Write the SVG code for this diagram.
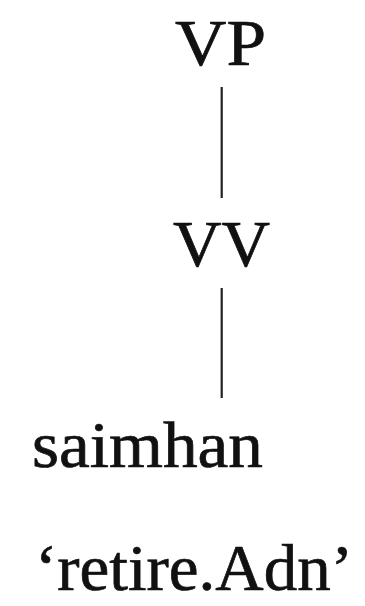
<svg xmlns="http://www.w3.org/2000/svg" width="365" height="606" viewBox="0 0 365 606">
<style>
text{font-family:"Liberation Serif","DejaVu Serif",serif;font-size:65px;fill:#111;stroke:#111;stroke-width:0.7}
.e{stroke:#222;stroke-width:2.2;fill:none}
</style>
<rect width="365" height="606" fill="#fff"/>
<g id="edges">
<line class="e" x1="221.7" y1="87" x2="221.7" y2="198"/>
<line class="e" x1="221.7" y1="288" x2="221.7" y2="398"/>
</g>
<g id="VP"><text x="175" y="65" textLength="91" lengthAdjust="spacingAndGlyphs">VP</text></g>
<g id="VV"><text x="173" y="266" textLength="97" lengthAdjust="spacingAndGlyphs">VV</text></g>
<g id="saimhan"><text x="32" y="467" textLength="231" lengthAdjust="spacingAndGlyphs">saimhan</text></g>
<g id="gloss"><text x="35" y="590" textLength="318" lengthAdjust="spacingAndGlyphs">‘retire.Adn’</text></g>
</svg>
